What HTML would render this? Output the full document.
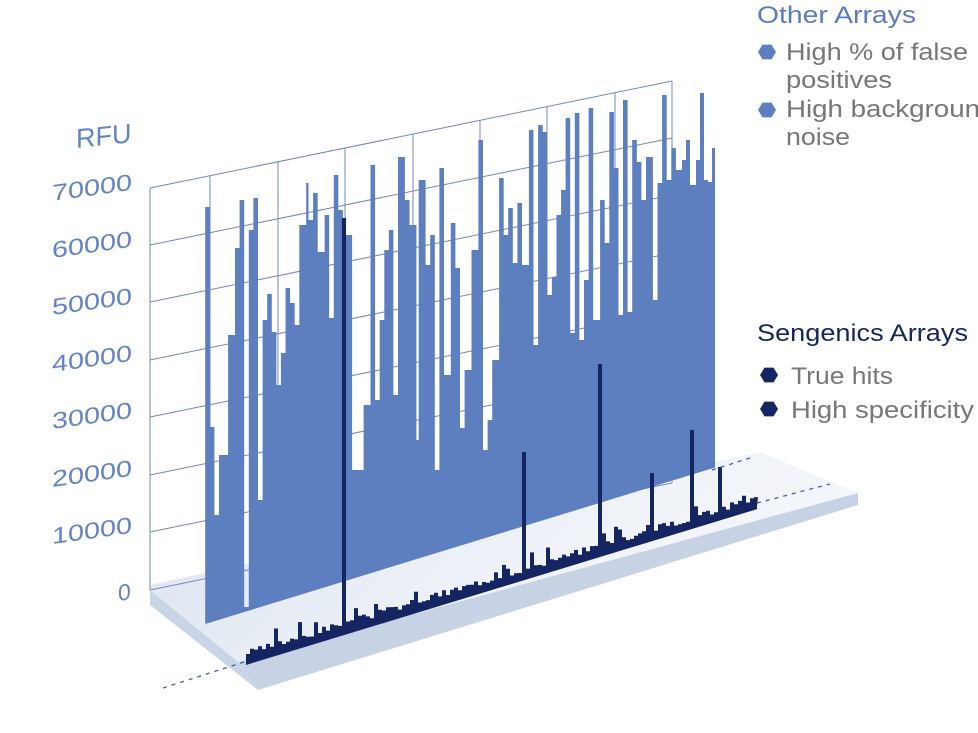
<!DOCTYPE html>
<html><head><meta charset="utf-8"><style>
html,body{margin:0;padding:0;background:#fff;width:978px;height:733px;overflow:hidden}
svg{position:absolute;left:0;top:0}
.t{font-family:"Liberation Sans",sans-serif}
</style></head><body>
<svg id="s" width="978" height="733" viewBox="0 0 978 733">
<defs>
<linearGradient id="slab" x1="0" y1="0" x2="1" y2="0.3">
<stop offset="0" stop-color="#dbe3ef"/><stop offset="0.6" stop-color="#eef2f8"/><stop offset="1" stop-color="#f4f6fa"/>
</linearGradient>
</defs>
<polygon points="150,590 238,662 858,493 760,452 150,585" fill="url(#slab)"/>
<polygon points="150,590 238,662 258,690 150,605" fill="#c9d5e6"/>
<polygon points="238,662 858,493 858,505 258,690" fill="#c7d3e5"/>
<g id="grid" stroke="#7688b8" stroke-width="1" fill="none"></g>
<g id="blue"></g>
<g id="navy"></g>
<g stroke="#4a5f96" stroke-width="1.3" stroke-dasharray="4,5" fill="none">
<line x1="163" y1="688" x2="244" y2="662"/>
<line x1="757" y1="503" x2="830" y2="484"/>
<line x1="712" y1="470" x2="750" y2="458"/>
</g>
<g class="t" fill="#6483c6">
<text x="76" y="148" font-size="27" transform="skewY(-6) translate(0,8)">RFU</text>
</g>
<g id="labels" class="t" fill="#6483c6" font-size="23"></g>
<g class="t" font-size="24">
<text x="757" y="23" fill="#5b7bc4" textLength="159" lengthAdjust="spacingAndGlyphs">Other Arrays</text>
<text x="757" y="341" fill="#15265f" textLength="211" lengthAdjust="spacingAndGlyphs">Sengenics Arrays</text>
<g fill="#777">
<text x="786" y="60" textLength="182" lengthAdjust="spacingAndGlyphs">High % of false</text>
<text x="786" y="88" textLength="106" lengthAdjust="spacingAndGlyphs">positives</text>
<text x="786" y="117" textLength="194" lengthAdjust="spacingAndGlyphs">High backgroun</text>
<text x="786" y="145" textLength="64" lengthAdjust="spacingAndGlyphs">noise</text>
<text x="791" y="384" textLength="102" lengthAdjust="spacingAndGlyphs">True hits</text>
<text x="791" y="418" textLength="183" lengthAdjust="spacingAndGlyphs">High specificity</text></g>
</g>
<g id="hex"></g>
</svg>
<script>
(function(){
var NS="http://www.w3.org/2000/svg";
function el(p,n,a){var e=document.createElementNS(NS,n);for(var k in a)e.setAttribute(k,a[k]);document.getElementById(p).appendChild(e);return e;}
var s=-0.205;
function gy(x,y0){return y0+s*(x-150);}
var ys=[188,245,302,360,417,475,532,590];
ys.forEach(function(y){el("grid","line",{x1:150,y1:y,x2:672,y2:gy(672,y)});});
[150,210,278,345,413,480,547,615,672].forEach(function(x){el("grid","line",{x1:x,y1:gy(x,188),x2:x,y2:gy(x,590)});});
var lab=["70000","60000","50000","40000","30000","20000","10000","0"];
var ly=[201,258,315,372,429,487,544,601];
lab.forEach(function(t,i){var x=(t=="0")?118:52;var a={x:x,y:ly[i],transform:"skewY(-8) translate(0,"+(x*Math.tan(8*Math.PI/180)).toFixed(1)+")"};if(t!="0"){a.textLength=80;a.lengthAdjust="spacingAndGlyphs";}var e=el("labels","text",a);e.textContent=t;});
var raw=[[202,207],[206,427],[210,515],[214,455],[222,335],[228,248],[232,200],[236,610],[240,230],[244,198],[248,500],[252,320],[256,294],[260,332],[264,385],[268,353],[272,288],[276,303],[280,325],[284,225],[290,183],[292,220],[296,193],[300,252],[306,215],[310,318],[314,175],[318,210],[322,235],[330,470],[340,405],[346,165],[350,400],[354,320],[358,250],[362,230],[366,395],[370,157],[376,200],[380,225],[386,440],[388,180],[394,265],[398,235],[402,470],[406,168],[410,375],[416,223],[420,268],[424,428],[428,370],[434,250],[440,140],[444,450],[448,420],[452,360],[458,178],[462,235],[466,208],[470,263],[474,203],[478,265],[484,130],[488,345],[492,125],[496,132],[500,295],[504,277],[508,215],[512,190],[516,118],[520,333],[524,113],[528,340],[532,280],[536,108],[540,320],[546,200],[550,243],[554,112],[558,168],[562,315],[566,100],[570,312],[574,140],[578,162],[582,200],[586,157],[592,300],[596,183],[600,95],[604,180],[608,148],[612,170]];
function T(x){return 140+(x-140)*1.148-6;}
var bars=raw.map(function(r){return [T(r[0]),r[1]];});
bars.push([682,160],[686,140],[690,185],[696,160],[700,93],[704,180],[708,182],[712,148]);
var endX=715;
function by(x){return 625-0.307*(x-202);}
var d="M"+bars[0][0].toFixed(1)+","+by(bars[0][0]).toFixed(1);
for(var i=0;i<bars.length;i++){var x0=bars[i][0],x1=(i+1<bars.length?bars[i+1][0]:endX);var tt=Math.min(bars[i][1],by(x0)-5);d+=" L"+x0.toFixed(1)+","+tt.toFixed(1)+" L"+x1.toFixed(1)+","+tt.toFixed(1);}
d+=" L"+endX+","+by(endX).toFixed(1)+" Z";
el("blue","path",{d:d,fill:"#5d7fc0"});
function ny(x){return 662-0.305*(x-246);}
var seed=3;function rnd(){seed=(seed*9301+49297)%233280;return seed/233280;}
var spikes=[[342,218],[521,452],[599,364],[650,473],[691,430],[718,467]];
var nd="M246,"+ny(246).toFixed(1);
for(var x=246;x<755;x+=4){var h=6+Math.floor(rnd()*7);if(rnd()<0.15)h+=8+Math.floor(rnd()*8);var tp=ny(x)-h;
for(var j=0;j<spikes.length;j++){if(Math.abs(spikes[j][0]-x)<2.5)tp=spikes[j][1];}
nd+=" L"+x+","+tp.toFixed(1)+" L"+(x+4)+","+tp.toFixed(1);}
nd+=" L757,"+ny(757).toFixed(1)+" L757,"+(ny(757)+3).toFixed(1)+" L246,"+(ny(246)+3).toFixed(1)+" Z";
el("navy","path",{d:nd,fill:"#142562"});
function hex(cx,cy,r,c){var p=[];for(var i=0;i<6;i++){var a=Math.PI/3*i;p.push((cx+r*Math.cos(a)).toFixed(1)+","+(cy+r*Math.sin(a)*0.95).toFixed(1));}el("hex","polygon",{points:p.join(" "),fill:c});}
hex(767,52,9,"#5d7fc0");hex(767,110,9,"#5d7fc0");hex(769,375,9,"#142562");hex(769,409,9,"#142562");
})();
</script>
</body></html>
